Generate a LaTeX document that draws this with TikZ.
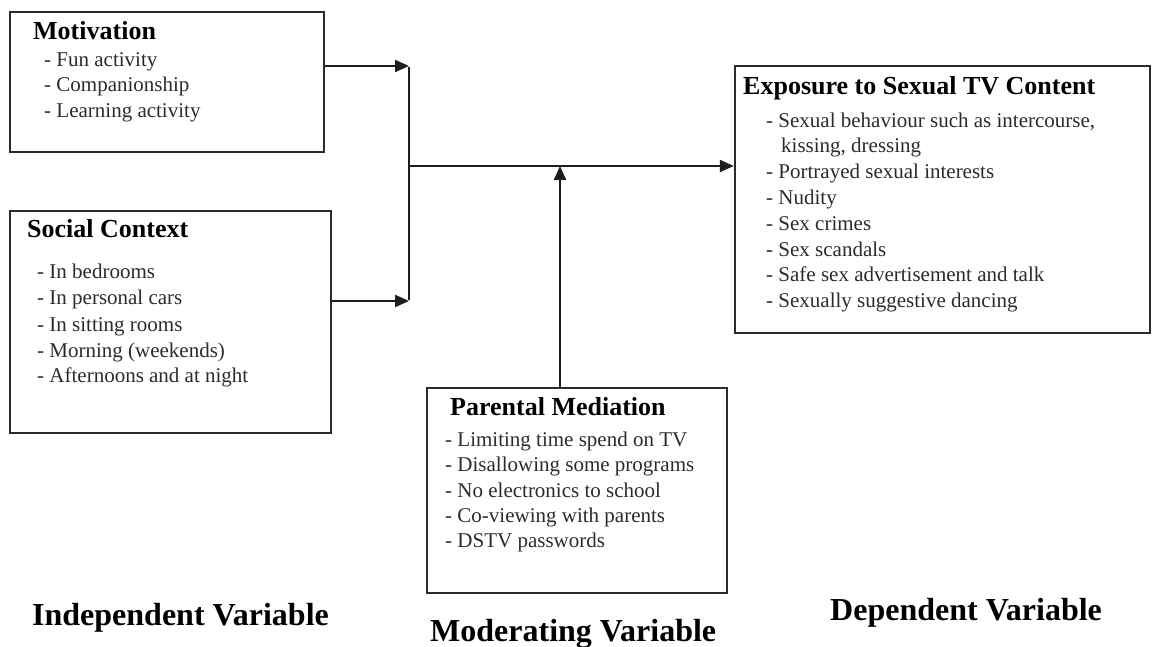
\documentclass[tikz,border=0pt]{standalone}
\usepackage{fontspec}
\setmainfont{Liberation Serif}
\usetikzlibrary{arrows.meta}
\definecolor{boxcol}{HTML}{2A2A2A}
\definecolor{linecol}{HTML}{1E1E1E}
\definecolor{textcol}{HTML}{2B2B2B}
\begin{document}
\begin{tikzpicture}[x=1pt,y=-1pt,
 box/.style={draw=boxcol, line width=2.4pt, inner sep=0pt},
 head/.style={anchor=base west, inner sep=0pt, font=\fontsize{26}{30}\selectfont\bfseries},
 item/.style={anchor=base west, inner sep=0pt, font=\fontsize{21}{25}\selectfont, text=textcol},
 lab/.style={anchor=base west, inner sep=0pt, font=\fontsize{32}{38}\selectfont\bfseries},
 conn/.style={line width=2.2pt, draw=linecol},
 arr/.style={conn, -{Triangle[length=14pt,width=12pt]}}]
\useasboundingbox (0,0) rectangle (1152,647);

% boxes
\node[box, minimum width=314pt, minimum height=140pt] (mot) at (167,82) {};
\node[box, minimum width=321pt, minimum height=222pt] (soc) at (170.5,322) {};
\node[box, minimum width=415pt, minimum height=267pt] (exp) at (942.5,199.5) {};
\node[box, minimum width=300pt, minimum height=205pt] (par) at (577,490.5) {};

% Motivation
\node[head] (mh) at (33,40) {Motivation};
\node[item] (m1) at (44,67) {- Fun activity};
\node[item] (m2) at (44,92) {- Companionship};
\node[item] (m3) at (44,118) {- Learning activity};

% Social Context
\node[head] (sh) at (27,238) {Social Context};
\node[item] (s1) at (37,279) {- In bedrooms};
\node[item] (s2) at (37,305) {- In personal cars};
\node[item] (s3) at (37,331) {- In sitting rooms};
\node[item] (s4) at (37,357) {- Morning (weekends)};
\node[item] (s5) at (37,382) {- Afternoons and at night};

% Exposure
\node[head] (eh) at (743,95) {Exposure to Sexual TV Content};
\node[item] (e1) at (766,128) {- Sexual behaviour such as intercourse,};
\node[item] (e1b) at (781,153) {kissing, dressing};
\node[item] (e2) at (766,179) {- Portrayed sexual interests};
\node[item] (e3) at (766,205) {- Nudity};
\node[item] (e4) at (766,231) {- Sex crimes};
\node[item] (e5) at (766,257) {- Sex scandals};
\node[item] (e6) at (766,282) {- Safe sex advertisement and talk};
\node[item] (e7) at (766,308) {- Sexually suggestive dancing};

% Parental Mediation
\node[head] (ph) at (450,415) {Parental Mediation};
\node[item] (p1) at (445,446) {- Limiting time spend on TV};
\node[item] (p2) at (445,471) {- Disallowing some programs};
\node[item] (p3) at (445,497) {- No electronics to school};
\node[item] (p4) at (445,522) {- Co-viewing with parents};
\node[item] (p5) at (445,547) {- DSTV passwords};

% bottom labels
\node[lab] (li) at (32,625) {Independent Variable};
\node[lab] (lm) at (430,641) {Moderating Variable};
\node[lab] (ld) at (830,620) {Dependent Variable};

% connectors
\coordinate (ja) at (409,66);
\coordinate (jb) at (409,301);
\coordinate (jc) at (409,166);
\coordinate (jm) at (560,166);
\draw[arr] (mot.east |- ja) -- (ja);
\draw[arr] (soc.east |- jb) -- (jb);
\draw[conn] ([yshift=-1.1pt]ja) -- ([yshift=1.1pt]jb);
\draw[arr] (jc) -- (exp.west |- jc);
\draw[arr] (par.north -| jm) -- (jm);
\end{tikzpicture}
\end{document}
